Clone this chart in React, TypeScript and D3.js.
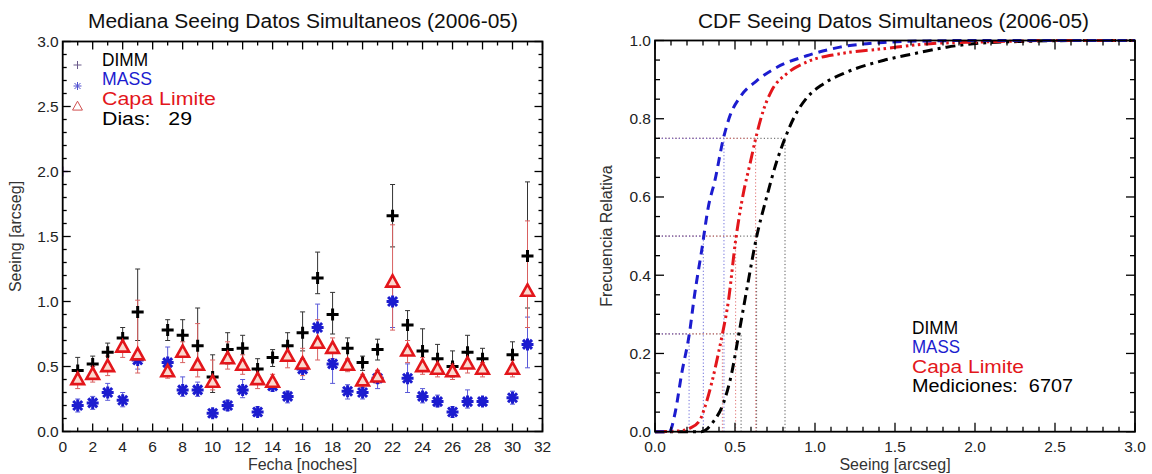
import React from "react";
import * as d3 from "d3";

// ---------- Left panel data (daily medians) ----------
const days = [1, 2, 3, 4, 5, 7, 8, 9, 10, 11, 12, 13, 14, 15, 16, 17, 18, 19, 20, 21, 22, 23, 24, 25, 26, 27, 28, 30, 31];
const dimm = [0.47, 0.52, 0.61, 0.72, 0.92, 0.78, 0.74, 0.66, 0.42, 0.63, 0.64, 0.48, 0.57, 0.66, 0.76, 1.18, 0.90, 0.64, 0.53, 0.63, 1.66, 0.82, 0.62, 0.56, 0.50, 0.61, 0.56, 0.59, 1.35];
const dimmHi = [0.57, 0.58, 0.68, 0.80, 1.25, 0.86, 0.86, 0.95, 0.59, 0.76, 0.74, 0.56, 0.63, 0.76, 0.92, 1.38, 1.07, 0.72, 0.58, 0.71, 1.90, 0.93, 0.79, 0.67, 0.62, 0.74, 0.64, 0.69, 1.92];
const dimmLo = [0.38, 0.44, 0.52, 0.62, 0.70, 0.70, 0.62, 0.48, 0.30, 0.52, 0.55, 0.40, 0.50, 0.55, 0.62, 1.06, 0.75, 0.55, 0.47, 0.55, 1.42, 0.70, 0.48, 0.47, 0.42, 0.50, 0.48, 0.50, 0.95];
const mass = [0.20, 0.22, 0.30, 0.24, 0.55, 0.53, 0.32, 0.32, 0.14, 0.20, 0.32, 0.15, 0.35, 0.27, 0.48, 0.80, 0.52, 0.31, 0.30, 0.41, 1.00, 0.41, 0.27, 0.23, 0.15, 0.23, 0.23, 0.26, 0.67];
const massHi = [0.25, 0.27, 0.37, 0.30, 0.62, 0.65, 0.42, 0.38, 0.17, 0.24, 0.40, 0.19, 0.40, 0.31, 0.56, 0.98, 0.64, 0.36, 0.34, 0.47, 1.12, 0.52, 0.33, 0.28, 0.19, 0.32, 0.26, 0.31, 0.88];
const massLo = [0.15, 0.17, 0.24, 0.19, 0.48, 0.45, 0.27, 0.27, 0.11, 0.16, 0.26, 0.12, 0.31, 0.22, 0.40, 0.65, 0.37, 0.25, 0.25, 0.33, 0.80, 0.30, 0.22, 0.19, 0.11, 0.18, 0.20, 0.21, 0.49];
const capa = [0.40, 0.44, 0.50, 0.65, 0.59, 0.46, 0.61, 0.51, 0.38, 0.56, 0.51, 0.40, 0.38, 0.58, 0.52, 0.68, 0.64, 0.51, 0.39, 0.42, 1.15, 0.62, 0.50, 0.48, 0.46, 0.52, 0.48, 0.48, 1.08];
const capaHi = [0.47, 0.50, 0.58, 0.72, 1.01, 0.52, 0.69, 0.83, 0.55, 0.69, 0.59, 0.47, 0.44, 0.66, 0.64, 0.86, 0.72, 0.56, 0.44, 0.47, 1.59, 0.70, 0.57, 0.55, 0.52, 0.60, 0.53, 0.55, 1.62];
const capaLo = [0.33, 0.38, 0.43, 0.57, 0.45, 0.41, 0.53, 0.42, 0.32, 0.48, 0.44, 0.33, 0.33, 0.49, 0.43, 0.55, 0.56, 0.46, 0.34, 0.37, 0.78, 0.53, 0.44, 0.42, 0.40, 0.45, 0.42, 0.42, 0.80];
const stray = { day: 0, value: 2.0 };

// ---------- Right panel data (CDF) ----------
const massCdfX = [0, 0.09, 0.125, 0.167, 0.215, 0.247, 0.292, 0.333, 0.375, 0.427, 0.469, 0.531, 0.635, 0.76, 0.948, 1.156, 1.427, 1.7, 2.0, 3.0];
const massCdfY = [0, 0, 0.047, 0.149, 0.251, 0.349, 0.464, 0.574, 0.643, 0.749, 0.808, 0.855, 0.897, 0.931, 0.961, 0.983, 0.995, 0.999, 1.0, 1.0];
const capaCdfX = [0, 0.15, 0.219, 0.281, 0.3125, 0.354, 0.396, 0.421, 0.458, 0.504, 0.552, 0.594, 0.629, 0.677, 0.729, 0.823, 0.948, 1.156, 1.427, 1.72, 2.03, 2.5, 3.0];
const capaCdfY = [0, 0.002, 0.009, 0.03, 0.064, 0.124, 0.2, 0.249, 0.332, 0.489, 0.609, 0.685, 0.749, 0.821, 0.872, 0.915, 0.945, 0.966, 0.979, 0.992, 0.996, 1.0, 1.0];
const dimmCdfX = [0, 0.29, 0.365, 0.427, 0.479, 0.521, 0.573, 0.635, 0.698, 0.76, 0.8125, 0.865, 0.948, 1.052, 1.198, 1.427, 1.615, 1.823, 2.03, 2.34, 2.66, 3.0];
const dimmCdfY = [0, 0, 0.026, 0.072, 0.149, 0.243, 0.362, 0.498, 0.600, 0.690, 0.750, 0.800, 0.853, 0.889, 0.919, 0.949, 0.966, 0.983, 0.993, 0.998, 1.0, 1.0];
const quartLevels = [0.25, 0.5, 0.75];
const massQ = [0.213, 0.302, 0.431];
const capaQ = [0.421, 0.504, 0.629];
const dimmQ = [0.538, 0.635, 0.8125];

const leftTitle = "Mediana Seeing Datos Simultaneos (2006-05)";
const rightTitle = "CDF Seeing Datos Simultaneos (2006-05)";
const seriesNames = ["DIMM", "MASS", "Capa Limite"];
const diasLabel = "Dias:   29";
const medLabel = "Mediciones:  6707";

const FONT = "'Liberation Sans', Arial, Helvetica, sans-serif";
const BLUE = "#1c1ccf";
const RED = "#e3161b";
const BLACK = "#000";

const W = 1152, H = 474;

const xL = d3.scaleLinear().domain([0, 32]).range([62.7, 542.5]);
const yL = d3.scaleLinear().domain([0, 3]).range([431.5, 41.5]);
const xR = d3.scaleLinear().domain([0, 3]).range([655, 1135]);
const yR = d3.scaleLinear().domain([0, 1]).range([431.7, 40.5]);

function range(a: number, b: number, s: number) {
  const out: number[] = [];
  const n = Math.round((b - a) / s);
  for (let i = 0; i <= n; i++) out.push(+(a + i * s).toFixed(6));
  return out;
}

function Frame({ x, y, xMaj, xMin, yMaj, yMin, xFmt, yFmt, majLen, minLen }: any) {
  const [x0, x1] = x.range();
  const [y0, y1] = y.range();
  const els: any[] = [];
  xMin.forEach((v: number, i: number) => {
    const isMaj = xMaj.some((m: number) => Math.abs(m - v) < 1e-6);
    const L = isMaj ? majLen : minLen;
    const px = x(v);
    els.push(<line key={"xb" + i} x1={px} x2={px} y1={y0} y2={y0 - L} stroke="#000" strokeWidth={1.3} />);
    els.push(<line key={"xt" + i} x1={px} x2={px} y1={y1} y2={y1 + L} stroke="#000" strokeWidth={1.3} />);
  });
  yMin.forEach((v: number, i: number) => {
    const isMaj = yMaj.some((m: number) => Math.abs(m - v) < 1e-6);
    const L = isMaj ? majLen : minLen;
    const py = y(v);
    els.push(<line key={"yl" + i} x1={x0} x2={x0 + L} y1={py} y2={py} stroke="#000" strokeWidth={1.3} />);
    els.push(<line key={"yr" + i} x1={x1} x2={x1 - L} y1={py} y2={py} stroke="#000" strokeWidth={1.3} />);
  });
  xMaj.forEach((v: number, i: number) => {
    els.push(
      <text key={"xl" + i} x={x(v)} y={y0 + 20} textAnchor="middle" fontSize={15.5} fontFamily={FONT} fill="#222">
        {xFmt(v)}
      </text>
    );
  });
  yMaj.forEach((v: number, i: number) => {
    els.push(
      <text key={"ylab" + i} x={x0 - 4} y={y(v) + 5.5} textAnchor="end" fontSize={15.5} fontFamily={FONT} fill="#222">
        {yFmt(v)}
      </text>
    );
  });
  els.push(<rect key="box" x={x0} y={y1} width={x1 - x0} height={y0 - y1} fill="none" stroke="#000" strokeWidth={1.8} />);
  return <g>{els}</g>;
}

function Plus({ cx, cy, s, color, w }: any) {
  return (
    <g stroke={color} strokeWidth={w}>
      <line x1={cx - s} x2={cx + s} y1={cy} y2={cy} />
      <line x1={cx} x2={cx} y1={cy - s} y2={cy + s} />
    </g>
  );
}
function Star({ cx, cy, s, color, w }: any) {
  const d = s * 0.75;
  return (
    <g stroke={color} strokeWidth={w}>
      <line x1={cx - s} x2={cx + s} y1={cy} y2={cy} />
      <line x1={cx} x2={cx} y1={cy - s} y2={cy + s} />
      <line x1={cx - d} x2={cx + d} y1={cy - d} y2={cy + d} />
      <line x1={cx - d} x2={cx + d} y1={cy + d} y2={cy - d} />
    </g>
  );
}
function Tri({ cx, cy, s, color, w, fill }: any) {
  const h = s * 0.95;
  const pts = `${cx},${cy - h * 0.62} ${cx - s * 0.55},${cy + h * 0.42} ${cx + s * 0.55},${cy + h * 0.42}`;
  return <polygon points={pts} fill={fill} stroke={color} strokeWidth={w} strokeLinejoin="miter" />;
}

function ErrBar({ px, yHi, yLo, color, w }: any) {
  const c = 2.5;
  return (
    <g stroke={color} strokeWidth={w}>
      <line x1={px} x2={px} y1={yHi} y2={yLo} />
      <line x1={px - c} x2={px + c} y1={yHi} y2={yHi} />
      <line x1={px - c} x2={px + c} y1={yLo} y2={yLo} />
    </g>
  );
}

function T({ x, y, len, color, size, children, anchor }: any) {
  return (
    <text
      x={x}
      y={y}
      fontSize={size}
      fontFamily={FONT}
      fill={color}
      textAnchor={anchor || "start"}
      textLength={len}
      lengthAdjust="spacingAndGlyphs"
      style={{ whiteSpace: "pre" }}
    >
      {children}
    </text>
  );
}

export default function App() {
  const lineGen = d3
    .line<[number, number]>()
    .x((d) => xR(d[0]))
    .y((d) => yR(d[1]))
    .curve(d3.curveMonotoneX);
  const zip = (a: number[], b: number[]) => a.map((v, i) => [v, b[i]] as [number, number]);

  const fmt1 = (v: number) => v.toFixed(1);
  const fmt0 = (v: number) => String(v);

  const quartLines = (q: number[], color: string, key: string) =>
    q.map((xv, i) => (
      <g key={key + i} stroke={color} strokeWidth={1} strokeDasharray="1.2 2.2" fill="none">
        <line x1={xR(0)} x2={xR(xv)} y1={yR(quartLevels[i])} y2={yR(quartLevels[i])} />
        <line x1={xR(xv)} x2={xR(xv)} y1={yR(0)} y2={yR(quartLevels[i])} />
      </g>
    ));

  return (
    <div style={{ position: "absolute", left: 0, top: 0 }}>
      <svg width={W} height={H} viewBox={`0 0 ${W} ${H}`} style={{ display: "block", background: "#fff" }}>
        <defs>
          <clipPath id="clipL">
            <rect x={xL(0)} y={yL(3)} width={xL(32) - xL(0)} height={yL(0) - yL(3)} />
          </clipPath>
        </defs>
        <rect x={0} y={0} width={W} height={H} fill="#fff" />

        {/* ---------------- Left panel ---------------- */}
        <T x={88} y={28} len={430} size={19.5} color="#111">{leftTitle}</T>
        <g clipPath="url(#clipL)">
          {days.map((d, i) => (
            <ErrBar key={"eb" + i} px={xL(d)} yHi={yL(dimmHi[i])} yLo={yL(dimmLo[i])} color="#333" w={1} />
          ))}
          {days.map((d, i) => (
            <ErrBar key={"em" + i} px={xL(d)} yHi={yL(massHi[i])} yLo={yL(massLo[i])} color="#5a5ad8" w={1} />
          ))}
          {days.map((d, i) => (
            <ErrBar key={"ec" + i} px={xL(d)} yHi={yL(capaHi[i])} yLo={yL(capaLo[i])} color="#d86060" w={1} />
          ))}
          {days.map((d, i) => (
            <Plus key={"pd" + i} cx={xL(d)} cy={yL(dimm[i])} s={6} color={BLACK} w={3} />
          ))}
          {days.map((d, i) => (
            <Star key={"pm" + i} cx={xL(d)} cy={yL(mass[i])} s={6} color={BLUE} w={3} />
          ))}
          {days.map((d, i) => (
            <Tri key={"pc" + i} cx={xL(d)} cy={yL(capa[i])} s={11.5} color={RED} w={2.6} fill="#fbd9cf" />
          ))}
          <Plus cx={xL(stray.day)} cy={yL(stray.value)} s={5} color="#8a4fc0" w={1.5} />
        </g>
        <Frame
          x={xL}
          y={yL}
          xMaj={range(0, 32, 2)}
          xMin={range(0, 32, 1)}
          yMaj={range(0, 3, 0.5)}
          yMin={range(0, 3, 0.1)}
          xFmt={fmt0}
          yFmt={fmt1}
          majLen={8}
          minLen={4}
        />
        <text x={(xL(0) + xL(32)) / 2} y={470} textAnchor="middle" fontSize={16} fontFamily={FONT} fill="#333">
          Fecha [noches]
        </text>
        <text
          transform={`translate(21,${(yL(0) + yL(3)) / 2}) rotate(-90)`}
          textAnchor="middle"
          fontSize={16}
          fontFamily={FONT}
          fill="#333"
        >
          Seeing [arcseg]
        </text>
        {/* left legend */}
        <Plus cx={77.5} cy={65} s={4} color="#6a5a8a" w={1} />
        <Star cx={77.5} cy={86} s={4} color="#5050d0" w={1} />
        <Tri cx={77.5} cy={106.5} s={9} color="#d05050" w={1} fill="none" />
        <T x={102} y={66} len={46} size={17.5} color={BLACK}>{seriesNames[0]}</T>
        <T x={102} y={84.5} len={50} size={17.5} color={BLUE}>{seriesNames[1]}</T>
        <T x={102} y={104.5} len={114} size={17.5} color={RED}>{seriesNames[2]}</T>
        <T x={102} y={124.5} len={90} size={17.5} color={BLACK}>{diasLabel}</T>

        {/* ---------------- Right panel ---------------- */}
        <T x={698} y={28} len={391} size={19.5} color="#111">{rightTitle}</T>
        {quartLines(dimmQ, "#555", "qd")}
        {quartLines(capaQ, "#e07070", "qc")}
        {quartLines(massQ, "#6a6ad8", "qm")}
        <path d={lineGen(zip(dimmCdfX, dimmCdfY)) || ""} fill="none" stroke={BLACK} strokeWidth={3} strokeDasharray="10 5 3 5" />
        <path d={lineGen(zip(capaCdfX, capaCdfY)) || ""} fill="none" stroke={RED} strokeWidth={3} strokeDasharray="12 4 2.5 3.5 2.5 3.5 2.5 4" />
        <path d={lineGen(zip(massCdfX, massCdfY)) || ""} fill="none" stroke={BLUE} strokeWidth={3} strokeDasharray="9 6" />
        <Frame
          x={xR}
          y={yR}
          xMaj={range(0, 3, 0.5)}
          xMin={range(0, 3, 0.1)}
          yMaj={range(0, 1, 0.2)}
          yMin={range(0, 1, 0.05)}
          xFmt={fmt1}
          yFmt={fmt1}
          majLen={9}
          minLen={5}
        />
        <text x={(xR(0) + xR(3)) / 2} y={470} textAnchor="middle" fontSize={16} fontFamily={FONT} fill="#333">
          Seeing [arcseg]
        </text>
        <text
          transform={`translate(612,${(yR(0) + yR(1)) / 2}) rotate(-90)`}
          textAnchor="middle"
          fontSize={16}
          fontFamily={FONT}
          fill="#333"
        >
          Frecuencia Relativa
        </text>
        <T x={912} y={333.5} len={46} size={17.5} color={BLACK}>{seriesNames[0]}</T>
        <T x={912} y={353} len={48} size={17.5} color={BLUE}>{seriesNames[1]}</T>
        <T x={912} y={372.5} len={112} size={17.5} color={RED}>{seriesNames[2]}</T>
        <T x={912} y={392} len={161} size={17.5} color={BLACK}>{medLabel}</T>
      </svg>
    </div>
  );
}
